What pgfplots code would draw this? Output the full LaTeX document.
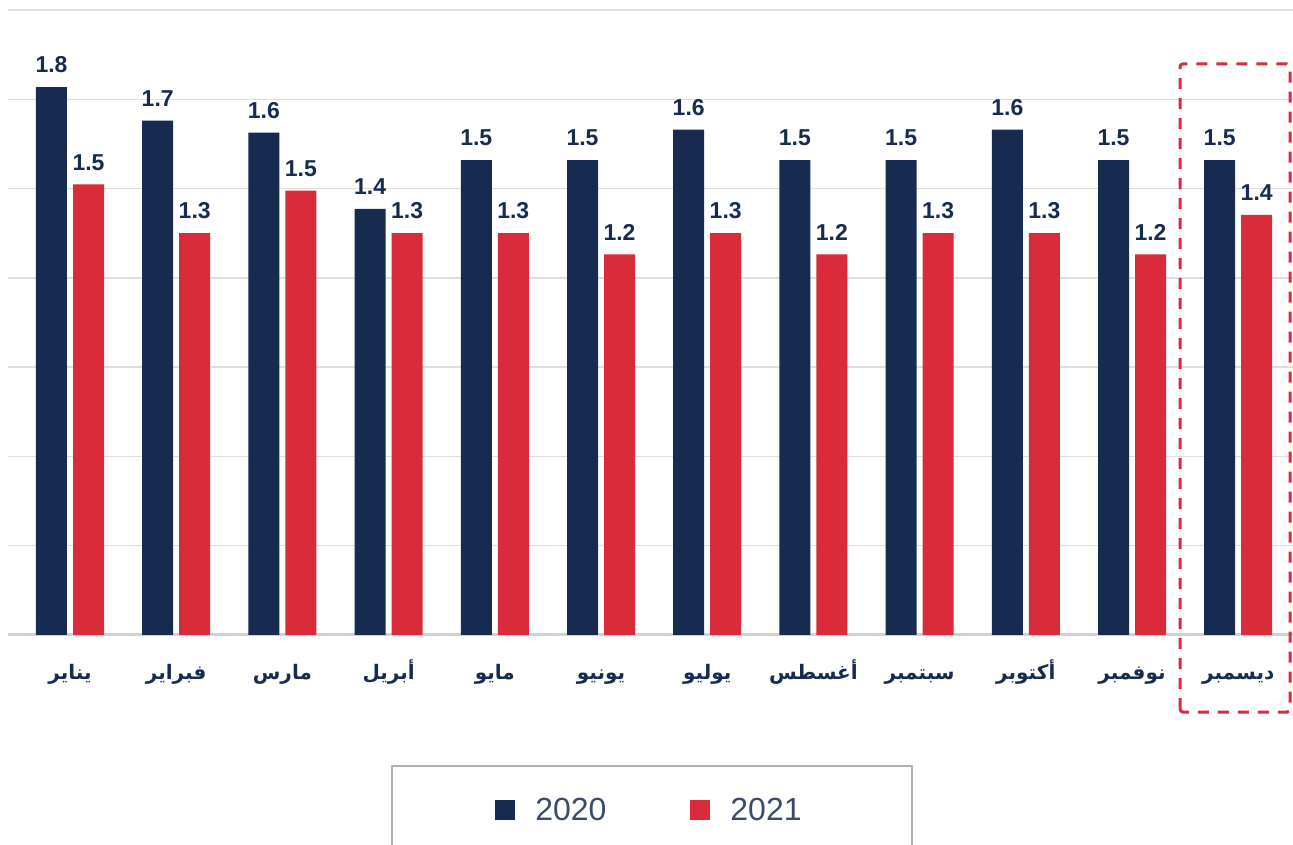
\documentclass[border=0pt]{standalone}
\usepackage{fontspec}
\usepackage{pgfplots}
\usepackage{pgfplotstable}
\pgfplotsset{compat=1.18}
\setmainfont{Liberation Sans}
\newfontfamily\arabicfont[Script=Arabic]{DejaVu Sans}
\TeXXeTstate=1
\definecolor{navy}{HTML}{172B50}
\definecolor{rred}{HTML}{D92B3A}
\definecolor{gridc}{HTML}{DEDEDE}

% bar heights; la/lb = printed labels
\pgfplotstableread{
x a la b lb
0 1.80 1.8 1.48 1.5
1 1.69 1.7 1.32 1.3
2 1.65 1.6 1.46 1.5
3 1.40 1.4 1.32 1.3
4 1.56 1.5 1.32 1.3
5 1.56 1.5 1.25 1.2
6 1.66 1.6 1.32 1.3
7 1.56 1.5 1.25 1.2
8 1.56 1.5 1.32 1.3
9 1.66 1.6 1.32 1.3
10 1.56 1.5 1.25 1.2
11 1.56 1.5 1.38 1.4
}\months

\newcommand{\ar}[1]{{\arabicfont\bfseries\beginR #1\endR}}

\begin{document}
\begin{tikzpicture}
\begin{axis}[
  at={(8pt,210pt)}, anchor=south west,
  scale only axis, width=1285pt, height=625pt,
  xmin=-0.5838, xmax=11.516, ymin=0, ymax=2.0532,
  ybar, bar width=31pt,
  axis line style={draw=none},
  major tick length=0pt,
  ytick={0.2933,0.5866,0.8799,1.1732,1.4665,1.7598,2.0531},
  yticklabels={},
  ymajorgrids, grid style={gridc, line width=1.5pt},
  extra y ticks={0}, extra y tick labels={},
  extra y tick style={grid style={draw=black!18, line width=3pt}},
  xtick=data,
  xticklabels={\ar{يناير},\ar{فبراير},\ar{مارس},\ar{أبريل},\ar{مايو},\ar{يونيو},\ar{يوليو},\ar{أغسطس},\ar{سبتمبر},\ar{أكتوبر},\ar{نوفمبر},\ar{ديسمبر}},
  xticklabel style={font=\fontsize{20}{24}\selectfont, text=navy, anchor=base, yshift=-45pt},
  point meta=explicit symbolic,
  nodes near coords,
  every node near coord/.append style={font=\fontsize{23}{27}\selectfont\bfseries, text=navy, anchor=south, inner sep=0pt, yshift=14pt},
  clip=false,
  legend columns=2,
  legend style={at={(0.3767,-0.28)}, anchor=west, draw=none, fill=none,
    font=\fontsize{32}{36}\selectfont, text=navy!85,
    /tikz/every odd column/.append style={column sep=18pt},
    /tikz/every even column/.append style={column sep=82pt}},
]
\addplot[fill=navy, draw=none, bar shift=-18.5pt,
  legend image code/.code={\fill[navy] (0pt,-10pt) rectangle (20pt,10pt);}]
  table[x=x, y=a, meta=la]{\months};
\addplot[fill=rred, draw=none, bar shift=18.5pt,
  legend image code/.code={\fill[rred] (0pt,-10pt) rectangle (20pt,10pt);}]
  table[x=x, y=b, meta=lb]{\months};
\legend{2020,2021}
\draw[black!30, line width=1.5pt] (rel axis cs:0.2988,-0.6) -- (rel axis cs:0.2988,-0.2096)
  -- (rel axis cs:0.7035,-0.2096) -- (rel axis cs:0.7035,-0.6);
\draw[rred, line width=3pt, dash pattern=on 11pt off 9pt, rounded corners=3pt]
  (axis cs:10.452,-0.253) rectangle (axis cs:11.488,1.876);
\end{axis}
\pgfresetboundingbox
\useasboundingbox (0,0) rectangle (1293pt,845pt);
\end{tikzpicture}
\end{document}
